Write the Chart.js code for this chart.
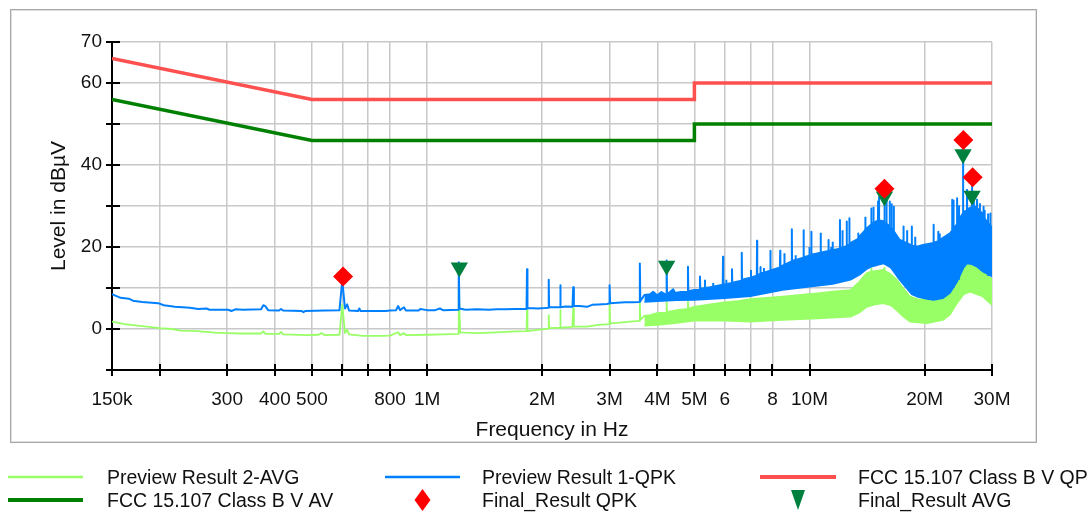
<!DOCTYPE html>
<html><head><meta charset="utf-8">
<script src="https://cdn.jsdelivr.net/npm/chart.js@4.4.1/dist/chart.umd.min.js"></script>
<style>html,body{margin:0;padding:0;background:#fff;}canvas{display:block;}</style>
</head><body>
<canvas id="c" width="1092" height="515" style="width:1092px;height:515px"></canvas>
<script>
// ---------- data (frequencies in MHz, levels in dBµV) ----------
const seriesNames = ['Preview Result 2-AVG','Preview Result 1-QPK','FCC 15.107 Class B V QP','FCC 15.107 Class B V AV','Final_Result QPK','Final_Result AVG'];
const xTitle = 'Frequency in Hz';
const yTitle = 'Level in dBµV';
const xGridMHz = [0.15,0.2,0.3,0.4,0.5,0.6,0.7,0.8,1,2,3,4,5,6,7,8,10,20,30];
const xTickText = ['150k','','300','400','500','','','800','1M','2M','3M','4M','5M','6','','8','10M','20M','30M'];
const yTickLabels = [70,60,40,20,0];

const qpLimit = [[0.15,66],[0.5,56],[5,56],[5,60],[30,60]];
const avLimit = [[0.15,56],[0.5,46],[5,46],[5,50],[30,50]];

const finalQpk = [[0.603,12.8],[15.7,34.2],[25.25,46.1],[26.7,37.0]];
const finalAvg = [[1.214,15.0],[4.23,15.4],[15.7,32.3],[25.2,42.6],[26.6,32.5]];

// Preview QPK trace (single line, then upper edge of the dense band)
const qpkTrace = [
[0.150,8.5],[0.158,7.6],[0.166,7.4],[0.170,6.9],[0.180,6.6],[0.198,6.3],[0.205,5.8],[0.219,5.4],[0.240,5.2],[0.252,4.9],[0.265,5.0],[0.270,4.7],[0.302,4.7],[0.308,4.4],[0.315,4.8],[0.330,4.7],[0.368,4.8],[0.373,5.8],[0.378,5.5],[0.384,4.6],[0.410,4.5],[0.415,4.9],[0.420,4.5],[0.470,4.4],[0.475,4.1],[0.480,4.4],[0.540,4.5],[0.590,4.6],[0.600,11.8],[0.610,5.0],[0.618,6.0],[0.625,4.5],[0.660,4.4],[0.665,5.0],[0.670,4.4],[0.780,4.4],[0.800,4.5],[0.830,4.6],[0.840,5.6],[0.850,4.6],[0.870,5.3],[0.880,4.5],[0.950,4.5],[0.960,4.9],[1.00,4.6],[1.05,4.6],[1.08,5.0],[1.10,4.6],[1.205,4.7],[1.210,16.3],[1.215,5.0],[1.26,4.7],[1.35,4.8],[1.45,4.7],[1.52,4.8],[1.60,4.8],[1.70,4.9],[1.82,4.9],[1.825,14.6],[1.83,5.1],[1.95,5.0],[2.03,5.1],[2.078,5.2],[2.08,12.0],[2.085,5.3],[2.228,5.3],[2.23,10.7],[2.235,5.3],[2.30,5.5],[2.40,5.4],[2.41,10.2],[2.42,5.6],[2.50,5.6],[2.62,5.4],[2.70,5.9],[2.80,6.0],[2.95,6.1],[2.99,6.2],[3.00,10.7],[3.01,6.3],[3.14,6.4],[3.30,6.5],[3.45,6.5],[3.59,6.6],[3.60,16.0],[3.61,6.8],[3.70,8.3],[3.83,8.5],[3.90,9.1],[4.00,8.2],[4.10,9.0],[4.22,8.3],[4.23,16.7],[4.24,8.4],[4.40,9.7],[4.45,8.8],[4.60,9.0],[4.80,9.0],[4.81,15.2],[4.82,9.2],[5.00,9.5],[5.16,9.6],[5.17,12.8],[5.18,9.8],[5.50,10.2],[5.93,10.8],[5.94,17.6],[5.95,10.8],[6.26,11.2],[6.27,14.6],[6.28,11.3],[6.64,11.8],[6.65,18.6],[6.66,12.0],[7.00,12.5],[7.28,13.0],[7.29,21.5],[7.30,13.2],[7.43,13.4],[7.44,15.1],[7.45,13.5],[7.89,14.2],[7.90,19.1],[7.91,14.3],[8.37,15.0],[8.38,19.1],[8.39,15.2],[8.98,16.5],[8.99,24.3],[9.00,16.6],[9.64,17.4],[9.65,24.1],[9.66,17.5],[10.10,18.0],[10.11,23.7],[10.12,18.1],[11.20,19.0],[11.21,21.7],[11.22,19.0],[12.00,19.6],[12.01,26.6],[12.02,19.7],[12.50,20.2],[12.51,26.2],[12.52,20.3],[12.70,20.6],[12.71,27.0],[12.72,20.8],[13.40,22.0],[13.41,23.3],[13.42,22.2],[14.10,24.5],[14.50,25.5],[14.51,29.4],[14.52,25.6],[15.10,26.5],[15.11,31.1],[15.12,26.5],[15.70,26.2],[15.71,34.0],[15.72,26.0],[16.20,25.0],[16.21,31.1],[16.22,24.8],[16.60,24.0],[16.61,29.8],[16.62,23.8],[17.20,21.7],[17.60,21.4],[17.61,25.0],[17.62,21.3],[18.50,20.4],[18.51,25.0],[18.52,20.3],[19.10,20.1],[19.80,20.5],[21.10,21.0],[21.11,25.4],[21.12,21.0],[21.70,21.4],[21.71,23.7],[21.72,21.5],[23.30,23.3],[23.60,24.0],[23.61,31.5],[23.62,24.2],[24.30,25.5],[24.31,31.9],[24.32,26.0],[25.10,28.0],[25.20,28.2],[25.21,45.5],[25.22,28.4],[25.80,29.0],[25.81,33.9],[25.82,29.2],[26.60,29.8],[26.61,36.8],[26.62,29.8],[27.40,29.8],[27.41,31.5],[27.42,29.5],[28.40,28.0],[28.50,27.5],[28.51,29.8],[28.52,27.3],[29.70,25.0],[29.71,28.2],[29.72,25.0],[30.00,25.0]
];
// lower edge of the dense QPK band
const qpkLow = [[3.70,6.6],[4.00,6.8],[4.50,7.0],[5.00,7.1],[6.00,7.5],[7.00,8.0],[8.50,9.5],[10.0,10.3],[11.5,11.0],[12.8,12.0],[13.5,13.2],[14.1,14.6],[14.5,15.2],[15.6,16.0],[16.3,15.0],[17.2,12.0],[18.5,8.5],[19.1,7.9],[20.3,7.3],[21.1,7.1],[22.3,7.5],[23.3,8.8],[24.3,11.5],[25.3,15.0],[25.8,16.0],[26.6,15.8],[27.4,15.2],[28.4,14.0],[30.0,12.8]];
// further QPK spikes inside the dense band: [MHz, band level, peak]
const qpkSpikes = [[5.33,8,12.0],[5.60,8,11.2],[6.06,9,12.0],[7.03,10,14.4],[7.60,10,14.9],[8.60,11,18.5],[9.20,11,18.0],[10.0,12,20.0],[10.6,12,18.5],[10.7,12,23.5],[11.4,12,20.0],[11.5,12,21.3],[12.2,13,24.1],[13.2,14,21.7],[13.8,15,23.3],[14.0,15,27.4],[14.7,16,29.8],[15.2,16,32.3],[15.9,16,31.5],[16.4,15,30.6],[18.0,10,24.1],[18.9,9,22.5],[20.2,8,20.0],[20.7,8,21.0],[21.9,8,23.3],[22.6,8,20.9],[23.8,10,31.5],[24.6,12,30.2],[26.9,16,31.5],[27.9,15,30.7],[28.7,14,29.0],[29.3,13,28.2]];

// Preview AVG trace (single line, then upper edge of the dense band)
const avgTrace = [
[0.150,1.8],[0.156,1.5],[0.162,1.2],[0.175,0.8],[0.185,0.6],[0.200,0.2],[0.215,0.0],[0.227,-0.4],[0.250,-0.5],[0.279,-0.9],[0.300,-1.0],[0.326,-1.1],[0.368,-1.1],[0.373,-0.6],[0.378,-1.2],[0.410,-1.2],[0.415,-0.7],[0.420,-1.3],[0.488,-1.5],[0.520,-1.4],[0.530,-1.0],[0.540,-1.5],[0.590,-1.4],[0.600,6.0],[0.610,-1.0],[0.618,-0.2],[0.625,-1.3],[0.680,-1.7],[0.760,-1.7],[0.800,-1.6],[0.840,-0.8],[0.850,-1.5],[0.870,-1.0],[0.880,-1.5],[1.00,-1.4],[1.10,-1.3],[1.205,-1.2],[1.210,10.0],[1.220,-0.8],[1.26,-0.9],[1.35,-1.0],[1.52,-0.8],[1.70,-0.6],[1.82,-0.5],[1.825,4.6],[1.83,-0.5],[2.00,-0.1],[2.078,0.1],[2.08,3.4],[2.085,0.2],[2.228,0.3],[2.23,4.6],[2.235,0.3],[2.40,0.5],[2.41,5.0],[2.42,0.6],[2.62,0.6],[2.80,1.0],[2.99,1.2],[3.00,5.9],[3.01,1.4],[3.14,1.5],[3.40,1.8],[3.59,2.0],[3.60,6.7],[3.61,2.2],[3.70,3.2],[3.83,3.4],[4.00,3.9],[4.22,4.0],[4.23,6.7],[4.24,4.1],[4.50,4.6],[4.80,4.9],[4.81,6.7],[4.82,5.0],[5.00,5.4],[5.50,6.0],[6.00,6.5],[6.50,6.8],[7.00,7.3],[7.74,7.6],[8.50,7.9],[9.50,8.3],[10.5,8.7],[11.5,9.1],[12.8,9.5],[13.5,11.5],[14.1,13.6],[14.5,14.0],[14.51,14.9],[14.52,14.0],[15.0,14.2],[15.6,14.4],[15.7,14.9],[15.71,14.2],[16.2,13.5],[16.9,12.0],[17.6,9.8],[18.3,7.9],[19.1,7.3],[20.3,7.1],[21.1,7.3],[22.3,7.9],[23.3,9.5],[24.3,12.8],[25.2,15.5],[25.8,16.8],[26.3,16.5],[27.4,15.0],[28.4,14.4],[29.2,13.0],[30.0,12.0]
];
// lower edge of the dense AVG band
const avgLow = [[3.70,0.8],[4.00,1.0],[4.50,1.5],[5.00,2.0],[6.00,2.0],[7.00,1.8],[8.50,2.2],[10.5,2.6],[12.8,3.0],[13.5,4.0],[14.1,5.4],[14.8,6.0],[15.6,6.3],[16.3,5.8],[16.9,4.6],[17.6,3.0],[18.3,1.8],[20.3,1.4],[22.3,2.2],[23.3,3.5],[24.3,6.3],[25.3,8.5],[26.3,9.1],[27.4,8.5],[28.4,7.9],[30.0,5.9]];

// ---------- chart ----------
const FONT = "'Liberation Sans', Arial, Helvetica, sans-serif";
const TXT = '#111';
const C = {avg:'#99ff66', qpk:'#0080ff', qp:'#ff5050', av:'#008000', dia:'#ff0000', tri:'#00803f'};
const pts = a => a.map(([x, y]) => ({x, y}));
const spikePts = a => a.flatMap(([x, b, t]) => [{x, y: b}, {x, y: t}, {x, y: null}]);

const lineDs = (data, color, width, extra) => Object.assign({
  data: pts(data), borderColor: color, backgroundColor: color, borderWidth: width,
  pointRadius: 0, tension: 0, borderJoinStyle: 'round', fill: false
}, extra || {});

const framePlugin = {
  id: 'frame',
  beforeDraw(chart) {
    const ctx = chart.ctx;
    ctx.save();
    ctx.fillStyle = '#fff';
    ctx.fillRect(0, 0, chart.width, chart.height);
    ctx.strokeStyle = '#a8a8a8'; ctx.lineWidth = 1;
    ctx.strokeRect(10.5, 9.5, 1026, 433);
    ctx.strokeStyle = '#dedede';
    ctx.strokeRect(11.5, 10.5, 1024, 431);
    ctx.restore();
  },
  afterDraw(chart) {
    const ctx = chart.ctx, xs = chart.scales.x, ys = chart.scales.y, a = chart.chartArea;
    ctx.save();
    ctx.strokeStyle = '#000'; ctx.lineWidth = 2;
    ctx.beginPath();
    ys.ticks.forEach(t => { const y = Math.round(ys.getPixelForValue(t.value)); ctx.moveTo(a.left - 6, y); ctx.lineTo(a.left + 8, y); });
    xs.ticks.forEach(t => { const x = Math.round(xs.getPixelForValue(t.value)); ctx.moveTo(x, a.bottom - 6); ctx.lineTo(x, a.bottom + 6); });
    ctx.stroke();

    // legend
    const colSample = [[8, 83], [385, 460], [760, 836]];
    const colText = [107, 482, 858];
    const rowY = [477, 500];
    const items = [
      {kind:'line', color:C.avg, w:2.5, col:0, row:0},
      {kind:'line', color:C.qpk, w:2.5, col:1, row:0},
      {kind:'line', color:C.qp,  w:4,   col:2, row:0},
      {kind:'line', color:C.av,  w:4,   col:0, row:1},
      {kind:'diamond', color:C.dia, col:1, row:1},
      {kind:'triangle', color:C.tri, col:2, row:1}
    ];
    ctx.font = '19.5px ' + FONT;
    ctx.textBaseline = 'middle';
    ctx.textAlign = 'left';
    items.forEach((it, i) => {
      const y = rowY[it.row], [x0, x1] = colSample[it.col], cx = (x0 + x1) / 2;
      ctx.fillStyle = it.color; ctx.strokeStyle = it.color;
      if (it.kind === 'line') {
        ctx.lineWidth = it.w; ctx.beginPath(); ctx.moveTo(x0, y); ctx.lineTo(x1, y); ctx.stroke();
      } else if (it.kind === 'diamond') {
        ctx.beginPath(); ctx.moveTo(cx, y - 11); ctx.lineTo(cx + 8, y); ctx.lineTo(cx, y + 11); ctx.lineTo(cx - 8, y); ctx.closePath(); ctx.fill();
      } else {
        ctx.beginPath(); ctx.moveTo(cx - 7, y - 10); ctx.lineTo(cx + 7, y - 10); ctx.lineTo(cx, y + 10); ctx.closePath(); ctx.fill();
      }
      ctx.fillStyle = TXT;
      ctx.fillText(seriesNames[i], colText[it.col], y + 2);
    });
    ctx.restore();
  }
};

new Chart(document.getElementById('c'), {
  type: 'line',
  data: {
    datasets: [
      {label: seriesNames[4], data: pts(finalQpk), showLine: false, pointStyle: 'rectRot', pointRadius: 10, pointHoverRadius: 10, backgroundColor: C.dia, borderColor: C.dia, borderWidth: 0},
      {label: seriesNames[5], data: pts(finalAvg), showLine: false, pointStyle: 'triangle', rotation: 180, pointRadius: 10, pointHoverRadius: 10, backgroundColor: C.tri, borderColor: C.tri, borderWidth: 0},
      lineDs(qpLimit, C.qp, 3.5, {label: seriesNames[2], borderJoinStyle: 'miter'}),
      lineDs(avLimit, C.av, 3.5, {label: seriesNames[3], borderJoinStyle: 'miter'}),
      {label: seriesNames[1] + ' spikes', data: spikePts(qpkSpikes), borderColor: C.qpk, borderWidth: 2, pointRadius: 0, spanGaps: false, fill: false},
      lineDs(qpkTrace, C.qpk, 2, {label: seriesNames[1], fill: '+1'}),
      lineDs(qpkLow, C.qpk, 1.6, {label: seriesNames[1] + ' low'}),
      lineDs(avgTrace, C.avg, 1.8, {label: seriesNames[0], fill: '+1'}),
      lineDs(avgLow, C.avg, 1.6, {label: seriesNames[0] + ' low'})
    ]
  },
  options: {
    responsive: false, animation: false, devicePixelRatio: 1,
    layout: {padding: {left: 10, right: 100, top: 42, bottom: 70}},
    plugins: {legend: {display: false}, tooltip: {enabled: false}},
    events: [],
    scales: {
      x: {
        type: 'logarithmic', min: 0.15, max: 30,
        afterBuildTicks: s => { s.ticks = xGridMHz.map(v => ({value: v})); },
        afterFit: s => { s.height = 75; },
        ticks: {autoSkip: false, maxRotation: 0, minRotation: 0, padding: 18, color: TXT, font: {size: 19, family: FONT}, callback: (v, i) => xTickText[i]},
        grid: {color: '#c8c8c8', lineWidth: 1.5, drawTicks: false},
        border: {color: '#000', width: 2},
        title: {display: true, text: xTitle, color: TXT, font: {size: 21, family: FONT}, padding: {top: 0, bottom: 2}}
      },
      y: {
        min: -10, max: 70,
        afterFit: s => { s.width = 102; },
        ticks: {stepSize: 10, padding: 10, color: TXT, font: {size: 19, family: FONT}, callback: v => yTickLabels.includes(v) ? String(v) : ''},
        grid: {color: '#c8c8c8', lineWidth: 1.5, drawTicks: false},
        border: {color: '#000', width: 2},
        title: {display: true, text: yTitle, color: TXT, font: {size: 21, family: FONT}, padding: {top: 37, bottom: 0}}
      }
    }
  },
  plugins: [framePlugin]
});
</script>
</body></html>
